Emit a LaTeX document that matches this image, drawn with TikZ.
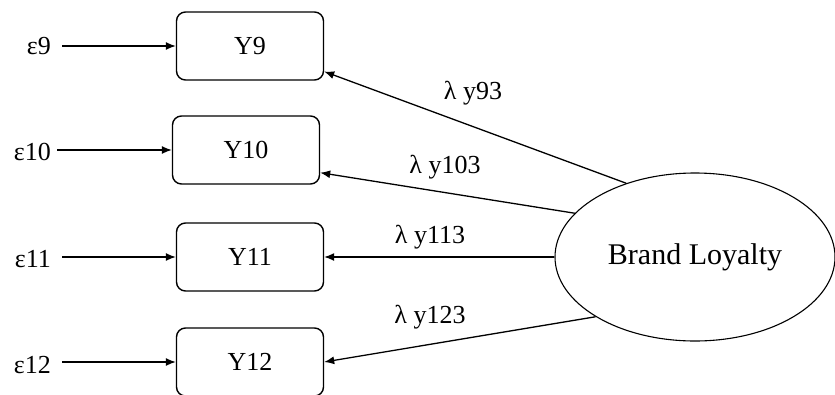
\documentclass[tikz,border=0pt]{standalone}
\usepackage{fontspec}
\setmainfont{Liberation Serif}
\usetikzlibrary{arrows.meta,shapes.geometric}
\begin{document}
\begin{tikzpicture}[x=1pt,y=-1pt,
  txt/.style={font=\fontsize{26}{30}\selectfont},
  obs/.style={draw,line width=1.4pt,rounded corners=9pt,minimum width=147pt,minimum height=68pt,txt},
  err/.style={txt,anchor=east,inner sep=0pt},
  lat/.style={draw,line width=1.1pt,ellipse,minimum width=280pt,minimum height=168pt,font=\fontsize{30}{34}\selectfont},
  arr/.style={line width=1.3pt,-{Latex[length=10pt,width=8pt]}},
  load/.style={txt,inner sep=0pt}]
\useasboundingbox (0,0) rectangle (835,394);
% observed indicators
\node[obs] (y9)  at (250,46)  {Y9};
\node[obs] (y10) at (246,150) {Y10};
\node[obs] (y11) at (250,257) {Y11};
\node[obs] (y12) at (250,362) {Y12};
% error terms
\node[err] (e9)  at (51,46)  {ε9};
\node[err] (e10) at (51,152) {ε10};
\node[err] (e11) at (51,259) {ε11};
\node[err] (e12) at (51,365) {ε12};
\draw[arr] (62,46)  -- (y9.west);
\draw[arr] (57,150) -- (y10.west);
\draw[arr] (62,257) -- (y11.west);
\draw[arr] (62,362) -- (y12.west);
% latent construct
\node[lat] (bl) at (695,257) {Brand Loyalty};
\draw[arr] (bl.133.4) -- (y9.-19.6);
\draw[arr] (bl.160.4) -- (y10.-17.3);
\draw[arr] (bl.west)  -- (y11.east);
\draw[arr] (bl.211.5) -- (y12.east);
% loadings
\node[load] (l9)  at (473,93)  {λ y93};
\node[load] (l10) at (445,167) {λ y103};
\node[load] (l11) at (430,237) {λ y113};
\node[load] (l12) at (430,317) {λ y123};
\end{tikzpicture}
\end{document}
